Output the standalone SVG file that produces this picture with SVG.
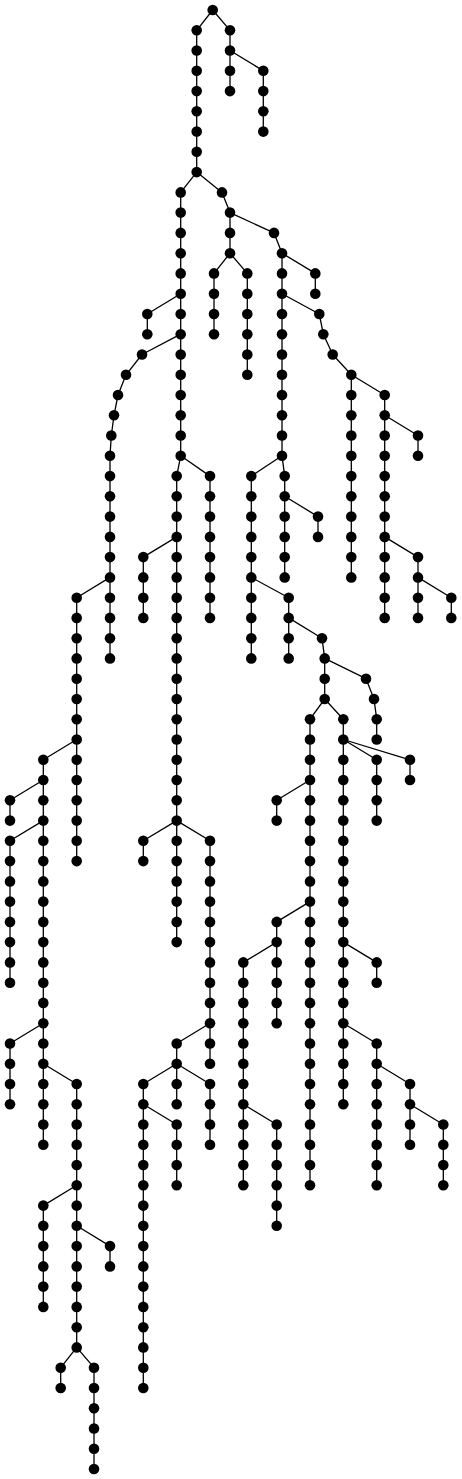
<svg xmlns="http://www.w3.org/2000/svg" width="462" height="1479" viewBox="0 0 462 1479">
<style>
#edges path{fill:none;stroke:#000;stroke-width:1.3;stroke-linejoin:round}
.nodes circle{fill:#000}
</style>
<rect width="462" height="1479" fill="#fff"/>
<g id="edges">
<path d="M212.7 10L196.7 30.3V172.1"/>
<path d="M212.7 10L230 30.3V91.1"/>
<path d="M230 50.5L263.3 70.8V131.6"/>
<path d="M196.7 172.1L222 192.4L230 212.6V253.2"/>
<path d="M196.7 172.1L180.7 192.4V455.8"/>
<path d="M230 212.6L274 232.9L282 253.2V455.8"/>
<path d="M230 253.2L214 273.4V334.2"/>
<path d="M230 253.2L247.3 273.4V374.8"/>
<path d="M282 253.2L315.3 273.4V293.7"/>
<path d="M180.7 293.7L147.3 314V334.2"/>
<path d="M180.7 334.2L142 354.5L126 374.8L118 395L114 415.3L111.3 435.5L110 455.8V658.4"/>
<path d="M282 293.7L319.3 314L323.3 334.2L332.7 354.5L351.3 374.8V577.4"/>
<path d="M351.3 374.8L384.7 395V617.9"/>
<path d="M384.7 415.3L418 435.5V455.8"/>
<path d="M384.7 536.9L418 557.1V617.9"/>
<path d="M418 577.4L451.3 597.7V617.9"/>
<path d="M180.7 455.8L176.7 476.1V942.1"/>
<path d="M180.7 455.8L210 476.1V617.9"/>
<path d="M282 455.8L251.3 476.1V658.4"/>
<path d="M282 455.8L284.7 476.1V577.4"/>
<path d="M284.7 496.3L318 516.6V536.9"/>
<path d="M176.7 536.9L143.3 557.1V617.9"/>
<path d="M110 577.4L76.7 597.7V861.1"/>
<path d="M251.3 577.4L288.7 597.7V658.4"/>
<path d="M288.7 617.9L322 638.2L324.7 658.4V699"/>
<path d="M324.7 658.4L366 678.7L374 699L376.7 719.2V739.5"/>
<path d="M324.7 699L310 719.2V1185.3"/>
<path d="M324.7 699L343.3 719.2V1104.3"/>
<path d="M76.7 739.5L43.3 759.8V1144.8"/>
<path d="M343.3 739.5L376.7 759.8V820.6"/>
<path d="M343.3 739.5L410 759.8V780"/>
<path d="M43.3 780L10 800.3V820.6"/>
<path d="M310 780L276.7 800.3V820.6"/>
<path d="M43.3 820.6L10 840.8V982.7"/>
<path d="M176.7 820.6L143.3 840.8V861.1"/>
<path d="M176.7 820.6L210 840.8V1063.7"/>
<path d="M310 901.6L276.7 921.9V1023.2"/>
<path d="M276.7 942.1L243.3 962.4V1185.3"/>
<path d="M343.3 942.1L376.7 962.4V982.7"/>
<path d="M43.3 1023.2L10 1043.5V1104.3"/>
<path d="M210 1023.2L176.7 1043.5V1104.3"/>
<path d="M343.3 1023.2L376.7 1043.5V1185.3"/>
<path d="M43.3 1063.7L76.7 1084V1347.4"/>
<path d="M176.7 1063.7L143.3 1084V1388"/>
<path d="M176.7 1063.7L210 1084V1144.8"/>
<path d="M376.7 1063.7L410 1084V1144.8"/>
<path d="M143.3 1104.3L176.7 1124.5V1185.3"/>
<path d="M243.3 1104.3L276.7 1124.5V1225.8"/>
<path d="M410 1104.3L443.3 1124.5V1185.3"/>
<path d="M76.7 1185.3L43.3 1205.6V1306.9"/>
<path d="M76.7 1225.8L110 1246.1V1266.4"/>
<path d="M76.7 1347.4L60.7 1367.7V1388"/>
<path d="M76.7 1347.4L94 1367.7V1469"/>
</g>
<g class="nodes">
<g id="r"><circle cx="212.7" cy="10" r="5.3"/></g>
<g id="c1_1"><circle cx="196.7" cy="30.3" r="5.3"/></g>
<g id="c1_2"><circle cx="196.7" cy="50.5" r="5.3"/></g>
<g id="c1_3"><circle cx="196.7" cy="70.8" r="5.3"/></g>
<g id="c1_4"><circle cx="196.7" cy="91.1" r="5.3"/></g>
<g id="c1_5"><circle cx="196.7" cy="111.3" r="5.3"/></g>
<g id="c1_6"><circle cx="196.7" cy="131.6" r="5.3"/></g>
<g id="c1_7"><circle cx="196.7" cy="151.8" r="5.3"/></g>
<g id="c1_8"><circle cx="196.7" cy="172.1" r="5.3"/></g>
<g id="c2_1"><circle cx="230" cy="30.3" r="5.3"/></g>
<g id="c2_2"><circle cx="230" cy="50.5" r="5.3"/></g>
<g id="c2_3"><circle cx="230" cy="70.8" r="5.3"/></g>
<g id="c2_4"><circle cx="230" cy="91.1" r="5.3"/></g>
<g id="c3_1"><circle cx="263.3" cy="70.8" r="5.3"/></g>
<g id="c3_2"><circle cx="263.3" cy="91.1" r="5.3"/></g>
<g id="c3_3"><circle cx="263.3" cy="111.3" r="5.3"/></g>
<g id="c3_4"><circle cx="263.3" cy="131.6" r="5.3"/></g>
<g id="s222"><circle cx="222" cy="192.4" r="5.3"/></g>
<g id="c4_1"><circle cx="180.7" cy="192.4" r="5.3"/></g>
<g id="c4_2"><circle cx="180.7" cy="212.6" r="5.3"/></g>
<g id="c4_3"><circle cx="180.7" cy="232.9" r="5.3"/></g>
<g id="c4_4"><circle cx="180.7" cy="253.2" r="5.3"/></g>
<g id="c4_5"><circle cx="180.7" cy="273.4" r="5.3"/></g>
<g id="c4_6"><circle cx="180.7" cy="293.7" r="5.3"/></g>
<g id="c4_7"><circle cx="180.7" cy="314" r="5.3"/></g>
<g id="c4_8"><circle cx="180.7" cy="334.2" r="5.3"/></g>
<g id="c4_9"><circle cx="180.7" cy="354.5" r="5.3"/></g>
<g id="c4_10"><circle cx="180.7" cy="374.8" r="5.3"/></g>
<g id="c4_11"><circle cx="180.7" cy="395" r="5.3"/></g>
<g id="c4_12"><circle cx="180.7" cy="415.3" r="5.3"/></g>
<g id="c4_13"><circle cx="180.7" cy="435.5" r="5.3"/></g>
<g id="c4_14"><circle cx="180.7" cy="455.8" r="5.3"/></g>
<g id="c5_1"><circle cx="230" cy="212.6" r="5.3"/></g>
<g id="c5_2"><circle cx="230" cy="232.9" r="5.3"/></g>
<g id="c5_3"><circle cx="230" cy="253.2" r="5.3"/></g>
<g id="s274"><circle cx="274" cy="232.9" r="5.3"/></g>
<g id="c6_1"><circle cx="282" cy="253.2" r="5.3"/></g>
<g id="c6_2"><circle cx="282" cy="273.4" r="5.3"/></g>
<g id="c6_3"><circle cx="282" cy="293.7" r="5.3"/></g>
<g id="c6_4"><circle cx="282" cy="314" r="5.3"/></g>
<g id="c6_5"><circle cx="282" cy="334.2" r="5.3"/></g>
<g id="c6_6"><circle cx="282" cy="354.5" r="5.3"/></g>
<g id="c6_7"><circle cx="282" cy="374.8" r="5.3"/></g>
<g id="c6_8"><circle cx="282" cy="395" r="5.3"/></g>
<g id="c6_9"><circle cx="282" cy="415.3" r="5.3"/></g>
<g id="c6_10"><circle cx="282" cy="435.5" r="5.3"/></g>
<g id="c6_11"><circle cx="282" cy="455.8" r="5.3"/></g>
<g id="c7_1"><circle cx="214" cy="273.4" r="5.3"/></g>
<g id="c7_2"><circle cx="214" cy="293.7" r="5.3"/></g>
<g id="c7_3"><circle cx="214" cy="314" r="5.3"/></g>
<g id="c7_4"><circle cx="214" cy="334.2" r="5.3"/></g>
<g id="c8_1"><circle cx="247.3" cy="273.4" r="5.3"/></g>
<g id="c8_2"><circle cx="247.3" cy="293.7" r="5.3"/></g>
<g id="c8_3"><circle cx="247.3" cy="314" r="5.3"/></g>
<g id="c8_4"><circle cx="247.3" cy="334.2" r="5.3"/></g>
<g id="c8_5"><circle cx="247.3" cy="354.5" r="5.3"/></g>
<g id="c8_6"><circle cx="247.3" cy="374.8" r="5.3"/></g>
<g id="c9_1"><circle cx="315.3" cy="273.4" r="5.3"/></g>
<g id="c9_2"><circle cx="315.3" cy="293.7" r="5.3"/></g>
<g id="c10_1"><circle cx="147.3" cy="314" r="5.3"/></g>
<g id="c10_2"><circle cx="147.3" cy="334.2" r="5.3"/></g>
<g id="lc_1"><circle cx="142" cy="354.5" r="5.3"/></g>
<g id="lc_2"><circle cx="126" cy="374.8" r="5.3"/></g>
<g id="lc_3"><circle cx="118" cy="395" r="5.3"/></g>
<g id="lc_4"><circle cx="114" cy="415.3" r="5.3"/></g>
<g id="lc_5"><circle cx="111.3" cy="435.5" r="5.3"/></g>
<g id="c11_1"><circle cx="110" cy="455.8" r="5.3"/></g>
<g id="c11_2"><circle cx="110" cy="476.1" r="5.3"/></g>
<g id="c11_3"><circle cx="110" cy="496.3" r="5.3"/></g>
<g id="c11_4"><circle cx="110" cy="516.6" r="5.3"/></g>
<g id="c11_5"><circle cx="110" cy="536.9" r="5.3"/></g>
<g id="c11_6"><circle cx="110" cy="557.1" r="5.3"/></g>
<g id="c11_7"><circle cx="110" cy="577.4" r="5.3"/></g>
<g id="c11_8"><circle cx="110" cy="597.7" r="5.3"/></g>
<g id="c11_9"><circle cx="110" cy="617.9" r="5.3"/></g>
<g id="c11_10"><circle cx="110" cy="638.2" r="5.3"/></g>
<g id="c11_11"><circle cx="110" cy="658.4" r="5.3"/></g>
<g id="rc_1"><circle cx="319.3" cy="314" r="5.3"/></g>
<g id="rc_2"><circle cx="323.3" cy="334.2" r="5.3"/></g>
<g id="rc_3"><circle cx="332.7" cy="354.5" r="5.3"/></g>
<g id="c12_1"><circle cx="351.3" cy="374.8" r="5.3"/></g>
<g id="c12_2"><circle cx="351.3" cy="395" r="5.3"/></g>
<g id="c12_3"><circle cx="351.3" cy="415.3" r="5.3"/></g>
<g id="c12_4"><circle cx="351.3" cy="435.5" r="5.3"/></g>
<g id="c12_5"><circle cx="351.3" cy="455.8" r="5.3"/></g>
<g id="c12_6"><circle cx="351.3" cy="476.1" r="5.3"/></g>
<g id="c12_7"><circle cx="351.3" cy="496.3" r="5.3"/></g>
<g id="c12_8"><circle cx="351.3" cy="516.6" r="5.3"/></g>
<g id="c12_9"><circle cx="351.3" cy="536.9" r="5.3"/></g>
<g id="c12_10"><circle cx="351.3" cy="557.1" r="5.3"/></g>
<g id="c12_11"><circle cx="351.3" cy="577.4" r="5.3"/></g>
<g id="c13_1"><circle cx="384.7" cy="395" r="5.3"/></g>
<g id="c13_2"><circle cx="384.7" cy="415.3" r="5.3"/></g>
<g id="c13_3"><circle cx="384.7" cy="435.5" r="5.3"/></g>
<g id="c13_4"><circle cx="384.7" cy="455.8" r="5.3"/></g>
<g id="c13_5"><circle cx="384.7" cy="476.1" r="5.3"/></g>
<g id="c13_6"><circle cx="384.7" cy="496.3" r="5.3"/></g>
<g id="c13_7"><circle cx="384.7" cy="516.6" r="5.3"/></g>
<g id="c13_8"><circle cx="384.7" cy="536.9" r="5.3"/></g>
<g id="c13_9"><circle cx="384.7" cy="557.1" r="5.3"/></g>
<g id="c13_10"><circle cx="384.7" cy="577.4" r="5.3"/></g>
<g id="c13_11"><circle cx="384.7" cy="597.7" r="5.3"/></g>
<g id="c13_12"><circle cx="384.7" cy="617.9" r="5.3"/></g>
<g id="c14_1"><circle cx="418" cy="435.5" r="5.3"/></g>
<g id="c14_2"><circle cx="418" cy="455.8" r="5.3"/></g>
<g id="c15_1"><circle cx="418" cy="557.1" r="5.3"/></g>
<g id="c15_2"><circle cx="418" cy="577.4" r="5.3"/></g>
<g id="c15_3"><circle cx="418" cy="597.7" r="5.3"/></g>
<g id="c15_4"><circle cx="418" cy="617.9" r="5.3"/></g>
<g id="c16_1"><circle cx="451.3" cy="597.7" r="5.3"/></g>
<g id="c16_2"><circle cx="451.3" cy="617.9" r="5.3"/></g>
<g id="c17_1"><circle cx="176.7" cy="476.1" r="5.3"/></g>
<g id="c17_2"><circle cx="176.7" cy="496.3" r="5.3"/></g>
<g id="c17_3"><circle cx="176.7" cy="516.6" r="5.3"/></g>
<g id="c17_4"><circle cx="176.7" cy="536.9" r="5.3"/></g>
<g id="c17_5"><circle cx="176.7" cy="557.1" r="5.3"/></g>
<g id="c17_6"><circle cx="176.7" cy="577.4" r="5.3"/></g>
<g id="c17_7"><circle cx="176.7" cy="597.7" r="5.3"/></g>
<g id="c17_8"><circle cx="176.7" cy="617.9" r="5.3"/></g>
<g id="c17_9"><circle cx="176.7" cy="638.2" r="5.3"/></g>
<g id="c17_10"><circle cx="176.7" cy="658.4" r="5.3"/></g>
<g id="c17_11"><circle cx="176.7" cy="678.7" r="5.3"/></g>
<g id="c17_12"><circle cx="176.7" cy="699" r="5.3"/></g>
<g id="c17_13"><circle cx="176.7" cy="719.2" r="5.3"/></g>
<g id="c17_14"><circle cx="176.7" cy="739.5" r="5.3"/></g>
<g id="c17_15"><circle cx="176.7" cy="759.8" r="5.3"/></g>
<g id="c17_16"><circle cx="176.7" cy="780" r="5.3"/></g>
<g id="c17_17"><circle cx="176.7" cy="800.3" r="5.3"/></g>
<g id="c17_18"><circle cx="176.7" cy="820.6" r="5.3"/></g>
<g id="c17_19"><circle cx="176.7" cy="840.8" r="5.3"/></g>
<g id="c17_20"><circle cx="176.7" cy="861.1" r="5.3"/></g>
<g id="c17_21"><circle cx="176.7" cy="881.4" r="5.3"/></g>
<g id="c17_22"><circle cx="176.7" cy="901.6" r="5.3"/></g>
<g id="c17_23"><circle cx="176.7" cy="921.9" r="5.3"/></g>
<g id="c17_24"><circle cx="176.7" cy="942.1" r="5.3"/></g>
<g id="c18_1"><circle cx="210" cy="476.1" r="5.3"/></g>
<g id="c18_2"><circle cx="210" cy="496.3" r="5.3"/></g>
<g id="c18_3"><circle cx="210" cy="516.6" r="5.3"/></g>
<g id="c18_4"><circle cx="210" cy="536.9" r="5.3"/></g>
<g id="c18_5"><circle cx="210" cy="557.1" r="5.3"/></g>
<g id="c18_6"><circle cx="210" cy="577.4" r="5.3"/></g>
<g id="c18_7"><circle cx="210" cy="597.7" r="5.3"/></g>
<g id="c18_8"><circle cx="210" cy="617.9" r="5.3"/></g>
<g id="c19_1"><circle cx="251.3" cy="476.1" r="5.3"/></g>
<g id="c19_2"><circle cx="251.3" cy="496.3" r="5.3"/></g>
<g id="c19_3"><circle cx="251.3" cy="516.6" r="5.3"/></g>
<g id="c19_4"><circle cx="251.3" cy="536.9" r="5.3"/></g>
<g id="c19_5"><circle cx="251.3" cy="557.1" r="5.3"/></g>
<g id="c19_6"><circle cx="251.3" cy="577.4" r="5.3"/></g>
<g id="c19_7"><circle cx="251.3" cy="597.7" r="5.3"/></g>
<g id="c19_8"><circle cx="251.3" cy="617.9" r="5.3"/></g>
<g id="c19_9"><circle cx="251.3" cy="638.2" r="5.3"/></g>
<g id="c19_10"><circle cx="251.3" cy="658.4" r="5.3"/></g>
<g id="c20_1"><circle cx="284.7" cy="476.1" r="5.3"/></g>
<g id="c20_2"><circle cx="284.7" cy="496.3" r="5.3"/></g>
<g id="c20_3"><circle cx="284.7" cy="516.6" r="5.3"/></g>
<g id="c20_4"><circle cx="284.7" cy="536.9" r="5.3"/></g>
<g id="c20_5"><circle cx="284.7" cy="557.1" r="5.3"/></g>
<g id="c20_6"><circle cx="284.7" cy="577.4" r="5.3"/></g>
<g id="c21_1"><circle cx="318" cy="516.6" r="5.3"/></g>
<g id="c21_2"><circle cx="318" cy="536.9" r="5.3"/></g>
<g id="c22_1"><circle cx="143.3" cy="557.1" r="5.3"/></g>
<g id="c22_2"><circle cx="143.3" cy="577.4" r="5.3"/></g>
<g id="c22_3"><circle cx="143.3" cy="597.7" r="5.3"/></g>
<g id="c22_4"><circle cx="143.3" cy="617.9" r="5.3"/></g>
<g id="c23_1"><circle cx="76.7" cy="597.7" r="5.3"/></g>
<g id="c23_2"><circle cx="76.7" cy="617.9" r="5.3"/></g>
<g id="c23_3"><circle cx="76.7" cy="638.2" r="5.3"/></g>
<g id="c23_4"><circle cx="76.7" cy="658.4" r="5.3"/></g>
<g id="c23_5"><circle cx="76.7" cy="678.7" r="5.3"/></g>
<g id="c23_6"><circle cx="76.7" cy="699" r="5.3"/></g>
<g id="c23_7"><circle cx="76.7" cy="719.2" r="5.3"/></g>
<g id="c23_8"><circle cx="76.7" cy="739.5" r="5.3"/></g>
<g id="c23_9"><circle cx="76.7" cy="759.8" r="5.3"/></g>
<g id="c23_10"><circle cx="76.7" cy="780" r="5.3"/></g>
<g id="c23_11"><circle cx="76.7" cy="800.3" r="5.3"/></g>
<g id="c23_12"><circle cx="76.7" cy="820.6" r="5.3"/></g>
<g id="c23_13"><circle cx="76.7" cy="840.8" r="5.3"/></g>
<g id="c23_14"><circle cx="76.7" cy="861.1" r="5.3"/></g>
<g id="c24_1"><circle cx="288.7" cy="597.7" r="5.3"/></g>
<g id="c24_2"><circle cx="288.7" cy="617.9" r="5.3"/></g>
<g id="c24_3"><circle cx="288.7" cy="638.2" r="5.3"/></g>
<g id="c24_4"><circle cx="288.7" cy="658.4" r="5.3"/></g>
<g id="s322"><circle cx="322" cy="638.2" r="5.3"/></g>
<g id="c25_1"><circle cx="324.7" cy="658.4" r="5.3"/></g>
<g id="c25_2"><circle cx="324.7" cy="678.7" r="5.3"/></g>
<g id="c25_3"><circle cx="324.7" cy="699" r="5.3"/></g>
<g id="ec_1"><circle cx="366" cy="678.7" r="5.3"/></g>
<g id="ec_2"><circle cx="374" cy="699" r="5.3"/></g>
<g id="ec_3"><circle cx="376.7" cy="719.2" r="5.3"/></g>
<g id="ec_4"><circle cx="376.7" cy="739.5" r="5.3"/></g>
<g id="c26_1"><circle cx="310" cy="719.2" r="5.3"/></g>
<g id="c26_2"><circle cx="310" cy="739.5" r="5.3"/></g>
<g id="c26_3"><circle cx="310" cy="759.8" r="5.3"/></g>
<g id="c26_4"><circle cx="310" cy="780" r="5.3"/></g>
<g id="c26_5"><circle cx="310" cy="800.3" r="5.3"/></g>
<g id="c26_6"><circle cx="310" cy="820.6" r="5.3"/></g>
<g id="c26_7"><circle cx="310" cy="840.8" r="5.3"/></g>
<g id="c26_8"><circle cx="310" cy="861.1" r="5.3"/></g>
<g id="c26_9"><circle cx="310" cy="881.4" r="5.3"/></g>
<g id="c26_10"><circle cx="310" cy="901.6" r="5.3"/></g>
<g id="c26_11"><circle cx="310" cy="921.9" r="5.3"/></g>
<g id="c26_12"><circle cx="310" cy="942.1" r="5.3"/></g>
<g id="c26_13"><circle cx="310" cy="962.4" r="5.3"/></g>
<g id="c26_14"><circle cx="310" cy="982.7" r="5.3"/></g>
<g id="c26_15"><circle cx="310" cy="1002.9" r="5.3"/></g>
<g id="c26_16"><circle cx="310" cy="1023.2" r="5.3"/></g>
<g id="c26_17"><circle cx="310" cy="1043.5" r="5.3"/></g>
<g id="c26_18"><circle cx="310" cy="1063.7" r="5.3"/></g>
<g id="c26_19"><circle cx="310" cy="1084" r="5.3"/></g>
<g id="c26_20"><circle cx="310" cy="1104.3" r="5.3"/></g>
<g id="c26_21"><circle cx="310" cy="1124.5" r="5.3"/></g>
<g id="c26_22"><circle cx="310" cy="1144.8" r="5.3"/></g>
<g id="c26_23"><circle cx="310" cy="1165" r="5.3"/></g>
<g id="c26_24"><circle cx="310" cy="1185.3" r="5.3"/></g>
<g id="c27_1"><circle cx="343.3" cy="719.2" r="5.3"/></g>
<g id="c27_2"><circle cx="343.3" cy="739.5" r="5.3"/></g>
<g id="c27_3"><circle cx="343.3" cy="759.8" r="5.3"/></g>
<g id="c27_4"><circle cx="343.3" cy="780" r="5.3"/></g>
<g id="c27_5"><circle cx="343.3" cy="800.3" r="5.3"/></g>
<g id="c27_6"><circle cx="343.3" cy="820.6" r="5.3"/></g>
<g id="c27_7"><circle cx="343.3" cy="840.8" r="5.3"/></g>
<g id="c27_8"><circle cx="343.3" cy="861.1" r="5.3"/></g>
<g id="c27_9"><circle cx="343.3" cy="881.4" r="5.3"/></g>
<g id="c27_10"><circle cx="343.3" cy="901.6" r="5.3"/></g>
<g id="c27_11"><circle cx="343.3" cy="921.9" r="5.3"/></g>
<g id="c27_12"><circle cx="343.3" cy="942.1" r="5.3"/></g>
<g id="c27_13"><circle cx="343.3" cy="962.4" r="5.3"/></g>
<g id="c27_14"><circle cx="343.3" cy="982.7" r="5.3"/></g>
<g id="c27_15"><circle cx="343.3" cy="1002.9" r="5.3"/></g>
<g id="c27_16"><circle cx="343.3" cy="1023.2" r="5.3"/></g>
<g id="c27_17"><circle cx="343.3" cy="1043.5" r="5.3"/></g>
<g id="c27_18"><circle cx="343.3" cy="1063.7" r="5.3"/></g>
<g id="c27_19"><circle cx="343.3" cy="1084" r="5.3"/></g>
<g id="c27_20"><circle cx="343.3" cy="1104.3" r="5.3"/></g>
<g id="c28_1"><circle cx="43.3" cy="759.8" r="5.3"/></g>
<g id="c28_2"><circle cx="43.3" cy="780" r="5.3"/></g>
<g id="c28_3"><circle cx="43.3" cy="800.3" r="5.3"/></g>
<g id="c28_4"><circle cx="43.3" cy="820.6" r="5.3"/></g>
<g id="c28_5"><circle cx="43.3" cy="840.8" r="5.3"/></g>
<g id="c28_6"><circle cx="43.3" cy="861.1" r="5.3"/></g>
<g id="c28_7"><circle cx="43.3" cy="881.4" r="5.3"/></g>
<g id="c28_8"><circle cx="43.3" cy="901.6" r="5.3"/></g>
<g id="c28_9"><circle cx="43.3" cy="921.9" r="5.3"/></g>
<g id="c28_10"><circle cx="43.3" cy="942.1" r="5.3"/></g>
<g id="c28_11"><circle cx="43.3" cy="962.4" r="5.3"/></g>
<g id="c28_12"><circle cx="43.3" cy="982.7" r="5.3"/></g>
<g id="c28_13"><circle cx="43.3" cy="1002.9" r="5.3"/></g>
<g id="c28_14"><circle cx="43.3" cy="1023.2" r="5.3"/></g>
<g id="c28_15"><circle cx="43.3" cy="1043.5" r="5.3"/></g>
<g id="c28_16"><circle cx="43.3" cy="1063.7" r="5.3"/></g>
<g id="c28_17"><circle cx="43.3" cy="1084" r="5.3"/></g>
<g id="c28_18"><circle cx="43.3" cy="1104.3" r="5.3"/></g>
<g id="c28_19"><circle cx="43.3" cy="1124.5" r="5.3"/></g>
<g id="c28_20"><circle cx="43.3" cy="1144.8" r="5.3"/></g>
<g id="c29_1"><circle cx="376.7" cy="759.8" r="5.3"/></g>
<g id="c29_2"><circle cx="376.7" cy="780" r="5.3"/></g>
<g id="c29_3"><circle cx="376.7" cy="800.3" r="5.3"/></g>
<g id="c29_4"><circle cx="376.7" cy="820.6" r="5.3"/></g>
<g id="c30_1"><circle cx="410" cy="759.8" r="5.3"/></g>
<g id="c30_2"><circle cx="410" cy="780" r="5.3"/></g>
<g id="c31_1"><circle cx="10" cy="800.3" r="5.3"/></g>
<g id="c31_2"><circle cx="10" cy="820.6" r="5.3"/></g>
<g id="c32_1"><circle cx="276.7" cy="800.3" r="5.3"/></g>
<g id="c32_2"><circle cx="276.7" cy="820.6" r="5.3"/></g>
<g id="c33_1"><circle cx="10" cy="840.8" r="5.3"/></g>
<g id="c33_2"><circle cx="10" cy="861.1" r="5.3"/></g>
<g id="c33_3"><circle cx="10" cy="881.4" r="5.3"/></g>
<g id="c33_4"><circle cx="10" cy="901.6" r="5.3"/></g>
<g id="c33_5"><circle cx="10" cy="921.9" r="5.3"/></g>
<g id="c33_6"><circle cx="10" cy="942.1" r="5.3"/></g>
<g id="c33_7"><circle cx="10" cy="962.4" r="5.3"/></g>
<g id="c33_8"><circle cx="10" cy="982.7" r="5.3"/></g>
<g id="c34_1"><circle cx="143.3" cy="840.8" r="5.3"/></g>
<g id="c34_2"><circle cx="143.3" cy="861.1" r="5.3"/></g>
<g id="c35_1"><circle cx="210" cy="840.8" r="5.3"/></g>
<g id="c35_2"><circle cx="210" cy="861.1" r="5.3"/></g>
<g id="c35_3"><circle cx="210" cy="881.4" r="5.3"/></g>
<g id="c35_4"><circle cx="210" cy="901.6" r="5.3"/></g>
<g id="c35_5"><circle cx="210" cy="921.9" r="5.3"/></g>
<g id="c35_6"><circle cx="210" cy="942.1" r="5.3"/></g>
<g id="c35_7"><circle cx="210" cy="962.4" r="5.3"/></g>
<g id="c35_8"><circle cx="210" cy="982.7" r="5.3"/></g>
<g id="c35_9"><circle cx="210" cy="1002.9" r="5.3"/></g>
<g id="c35_10"><circle cx="210" cy="1023.2" r="5.3"/></g>
<g id="c35_11"><circle cx="210" cy="1043.5" r="5.3"/></g>
<g id="c35_12"><circle cx="210" cy="1063.7" r="5.3"/></g>
<g id="c36_1"><circle cx="276.7" cy="921.9" r="5.3"/></g>
<g id="c36_2"><circle cx="276.7" cy="942.1" r="5.3"/></g>
<g id="c36_3"><circle cx="276.7" cy="962.4" r="5.3"/></g>
<g id="c36_4"><circle cx="276.7" cy="982.7" r="5.3"/></g>
<g id="c36_5"><circle cx="276.7" cy="1002.9" r="5.3"/></g>
<g id="c36_6"><circle cx="276.7" cy="1023.2" r="5.3"/></g>
<g id="c37_1"><circle cx="243.3" cy="962.4" r="5.3"/></g>
<g id="c37_2"><circle cx="243.3" cy="982.7" r="5.3"/></g>
<g id="c37_3"><circle cx="243.3" cy="1002.9" r="5.3"/></g>
<g id="c37_4"><circle cx="243.3" cy="1023.2" r="5.3"/></g>
<g id="c37_5"><circle cx="243.3" cy="1043.5" r="5.3"/></g>
<g id="c37_6"><circle cx="243.3" cy="1063.7" r="5.3"/></g>
<g id="c37_7"><circle cx="243.3" cy="1084" r="5.3"/></g>
<g id="c37_8"><circle cx="243.3" cy="1104.3" r="5.3"/></g>
<g id="c37_9"><circle cx="243.3" cy="1124.5" r="5.3"/></g>
<g id="c37_10"><circle cx="243.3" cy="1144.8" r="5.3"/></g>
<g id="c37_11"><circle cx="243.3" cy="1165" r="5.3"/></g>
<g id="c37_12"><circle cx="243.3" cy="1185.3" r="5.3"/></g>
<g id="c38_1"><circle cx="376.7" cy="962.4" r="5.3"/></g>
<g id="c38_2"><circle cx="376.7" cy="982.7" r="5.3"/></g>
<g id="c39_1"><circle cx="10" cy="1043.5" r="5.3"/></g>
<g id="c39_2"><circle cx="10" cy="1063.7" r="5.3"/></g>
<g id="c39_3"><circle cx="10" cy="1084" r="5.3"/></g>
<g id="c39_4"><circle cx="10" cy="1104.3" r="5.3"/></g>
<g id="c40_1"><circle cx="176.7" cy="1043.5" r="5.3"/></g>
<g id="c40_2"><circle cx="176.7" cy="1063.7" r="5.3"/></g>
<g id="c40_3"><circle cx="176.7" cy="1084" r="5.3"/></g>
<g id="c40_4"><circle cx="176.7" cy="1104.3" r="5.3"/></g>
<g id="c41_1"><circle cx="376.7" cy="1043.5" r="5.3"/></g>
<g id="c41_2"><circle cx="376.7" cy="1063.7" r="5.3"/></g>
<g id="c41_3"><circle cx="376.7" cy="1084" r="5.3"/></g>
<g id="c41_4"><circle cx="376.7" cy="1104.3" r="5.3"/></g>
<g id="c41_5"><circle cx="376.7" cy="1124.5" r="5.3"/></g>
<g id="c41_6"><circle cx="376.7" cy="1144.8" r="5.3"/></g>
<g id="c41_7"><circle cx="376.7" cy="1165" r="5.3"/></g>
<g id="c41_8"><circle cx="376.7" cy="1185.3" r="5.3"/></g>
<g id="c42_1"><circle cx="76.7" cy="1084" r="5.3"/></g>
<g id="c42_2"><circle cx="76.7" cy="1104.3" r="5.3"/></g>
<g id="c42_3"><circle cx="76.7" cy="1124.5" r="5.3"/></g>
<g id="c42_4"><circle cx="76.7" cy="1144.8" r="5.3"/></g>
<g id="c42_5"><circle cx="76.7" cy="1165" r="5.3"/></g>
<g id="c42_6"><circle cx="76.7" cy="1185.3" r="5.3"/></g>
<g id="c42_7"><circle cx="76.7" cy="1205.6" r="5.3"/></g>
<g id="c42_8"><circle cx="76.7" cy="1225.8" r="5.3"/></g>
<g id="c42_9"><circle cx="76.7" cy="1246.1" r="5.3"/></g>
<g id="c42_10"><circle cx="76.7" cy="1266.4" r="5.3"/></g>
<g id="c42_11"><circle cx="76.7" cy="1286.6" r="5.3"/></g>
<g id="c42_12"><circle cx="76.7" cy="1306.9" r="5.3"/></g>
<g id="c42_13"><circle cx="76.7" cy="1327.2" r="5.3"/></g>
<g id="c42_14"><circle cx="76.7" cy="1347.4" r="5.3"/></g>
<g id="c43_1"><circle cx="143.3" cy="1084" r="5.3"/></g>
<g id="c43_2"><circle cx="143.3" cy="1104.3" r="5.3"/></g>
<g id="c43_3"><circle cx="143.3" cy="1124.5" r="5.3"/></g>
<g id="c43_4"><circle cx="143.3" cy="1144.8" r="5.3"/></g>
<g id="c43_5"><circle cx="143.3" cy="1165" r="5.3"/></g>
<g id="c43_6"><circle cx="143.3" cy="1185.3" r="5.3"/></g>
<g id="c43_7"><circle cx="143.3" cy="1205.6" r="5.3"/></g>
<g id="c43_8"><circle cx="143.3" cy="1225.8" r="5.3"/></g>
<g id="c43_9"><circle cx="143.3" cy="1246.1" r="5.3"/></g>
<g id="c43_10"><circle cx="143.3" cy="1266.4" r="5.3"/></g>
<g id="c43_11"><circle cx="143.3" cy="1286.6" r="5.3"/></g>
<g id="c43_12"><circle cx="143.3" cy="1306.9" r="5.3"/></g>
<g id="c43_13"><circle cx="143.3" cy="1327.2" r="5.3"/></g>
<g id="c43_14"><circle cx="143.3" cy="1347.4" r="5.3"/></g>
<g id="c43_15"><circle cx="143.3" cy="1367.7" r="5.3"/></g>
<g id="c43_16"><circle cx="143.3" cy="1388" r="5.3"/></g>
<g id="c44_1"><circle cx="210" cy="1084" r="5.3"/></g>
<g id="c44_2"><circle cx="210" cy="1104.3" r="5.3"/></g>
<g id="c44_3"><circle cx="210" cy="1124.5" r="5.3"/></g>
<g id="c44_4"><circle cx="210" cy="1144.8" r="5.3"/></g>
<g id="c45_1"><circle cx="410" cy="1084" r="5.3"/></g>
<g id="c45_2"><circle cx="410" cy="1104.3" r="5.3"/></g>
<g id="c45_3"><circle cx="410" cy="1124.5" r="5.3"/></g>
<g id="c45_4"><circle cx="410" cy="1144.8" r="5.3"/></g>
<g id="c46_1"><circle cx="176.7" cy="1124.5" r="5.3"/></g>
<g id="c46_2"><circle cx="176.7" cy="1144.8" r="5.3"/></g>
<g id="c46_3"><circle cx="176.7" cy="1165" r="5.3"/></g>
<g id="c46_4"><circle cx="176.7" cy="1185.3" r="5.3"/></g>
<g id="c47_1"><circle cx="276.7" cy="1124.5" r="5.3"/></g>
<g id="c47_2"><circle cx="276.7" cy="1144.8" r="5.3"/></g>
<g id="c47_3"><circle cx="276.7" cy="1165" r="5.3"/></g>
<g id="c47_4"><circle cx="276.7" cy="1185.3" r="5.3"/></g>
<g id="c47_5"><circle cx="276.7" cy="1205.6" r="5.3"/></g>
<g id="c47_6"><circle cx="276.7" cy="1225.8" r="5.3"/></g>
<g id="c48_1"><circle cx="443.3" cy="1124.5" r="5.3"/></g>
<g id="c48_2"><circle cx="443.3" cy="1144.8" r="5.3"/></g>
<g id="c48_3"><circle cx="443.3" cy="1165" r="5.3"/></g>
<g id="c48_4"><circle cx="443.3" cy="1185.3" r="5.3"/></g>
<g id="c49_1"><circle cx="43.3" cy="1205.6" r="5.3"/></g>
<g id="c49_2"><circle cx="43.3" cy="1225.8" r="5.3"/></g>
<g id="c49_3"><circle cx="43.3" cy="1246.1" r="5.3"/></g>
<g id="c49_4"><circle cx="43.3" cy="1266.4" r="5.3"/></g>
<g id="c49_5"><circle cx="43.3" cy="1286.6" r="5.3"/></g>
<g id="c49_6"><circle cx="43.3" cy="1306.9" r="5.3"/></g>
<g id="c50_1"><circle cx="110" cy="1246.1" r="5.3"/></g>
<g id="c50_2"><circle cx="110" cy="1266.4" r="5.3"/></g>
<g id="c51_1"><circle cx="60.7" cy="1367.7" r="5.3"/></g>
<g id="c51_2"><circle cx="60.7" cy="1388" r="5.3"/></g>
<g id="c52_1"><circle cx="94" cy="1367.7" r="5.3"/></g>
<g id="c52_2"><circle cx="94" cy="1388" r="5.3"/></g>
<g id="c52_3"><circle cx="94" cy="1408.2" r="5.3"/></g>
<g id="c52_4"><circle cx="94" cy="1428.5" r="5.3"/></g>
<g id="c52_5"><circle cx="94" cy="1448.7" r="5.3"/></g>
<g id="c52_6"><circle cx="94" cy="1469" r="5.3"/></g>
</g>
</svg>
